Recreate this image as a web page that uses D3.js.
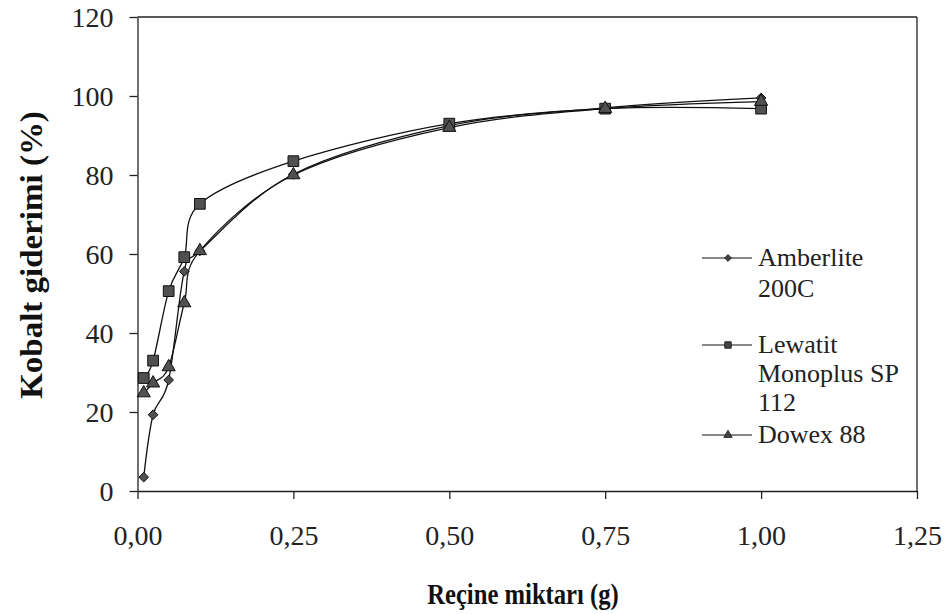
<!DOCTYPE html>
<html><head><meta charset="utf-8">
<script src="https://cdn.jsdelivr.net/npm/d3@7"></script>
<style>body{margin:0;background:#fff}</style>
</head><body><svg id="c" width="944" height="614"></svg>
<script>
const xValues = [0.01, 0.025, 0.05, 0.075, 0.1, 0.25, 0.5, 0.75, 1.0];
const amberlite = [3.5, 19.3, 28.1, 55.6, 60.8, 80.2, 92.5, 97.0, 99.5];
const lewatit   = [28.6, 33.0, 50.6, 59.2, 72.7, 83.5, 93.0, 96.8, 96.8];
const dowex     = [24.8, 27.3, 31.4, 47.6, 60.8, 80.0, 92.0, 96.8, 98.6];
const seriesNames = [["Amberlite", "200C"], ["Lewatit", "Monoplus SP", "112"], ["Dowex 88"]];
const xTicks = [0, 0.25, 0.5, 0.75, 1.0, 1.25];
const yTicks = [0, 20, 40, 60, 80, 100, 120];

const svg = d3.select("#c");
const L = 137.5, R = 917, T = 17, B = 491;
const x = d3.scaleLinear().domain([0, 1.25]).range([L, R]);
const y = d3.scaleLinear().domain([0, 120]).range([B, T]);
const font = "'Liberation Serif', 'Times New Roman', serif";

svg.append("line").attr("x1", L).attr("x2", R).attr("y1", T).attr("y2", T).attr("stroke", "#222").attr("stroke-width", 1.3);
svg.append("line").attr("x1", R).attr("x2", R).attr("y1", T).attr("y2", B).attr("stroke", "#222").attr("stroke-width", 1.3);

const fmt = d => d3.format(".2f")(d).replace(".", ",");
const xAxis = svg.append("g").attr("transform", `translate(0,${B})`)
  .call(d3.axisBottom(x).tickValues(xTicks).tickFormat(fmt).tickSize(8).tickSizeOuter(0));
const yAxis = svg.append("g").attr("transform", `translate(${L},0)`)
  .call(d3.axisLeft(y).tickValues(yTicks).tickFormat(d3.format("d")).tickSize(8).tickSizeOuter(0));
[xAxis, yAxis].forEach(g => {
  g.attr("font-family", null).attr("font-size", null);
  g.selectAll("path,line").attr("stroke", "#222").attr("stroke-width", 1.3);
  g.selectAll("text").style("font-family", font).style("font-size", "28px").attr("fill", "#222");
});
xAxis.selectAll("text").attr("dy", "0").attr("y", 54);
yAxis.selectAll("text").attr("x", -24).attr("dy", "0.33em");

svg.append("text").attr("transform", "translate(523,604) scale(0.85,1)").attr("text-anchor", "middle")
  .style("font-family", font).style("font-weight", "bold").style("font-size", "29px").attr("fill", "#111")
  .text("Reçine miktarı (g)");
svg.append("text").attr("transform", "translate(42,255) scale(0.95,1) rotate(-90)").attr("text-anchor", "middle")
  .style("font-family", font).style("font-weight", "bold").style("font-size", "33px").attr("fill", "#111")
  .text("Kobalt giderimi (%)");

const line = d3.line().x(d => x(d[0])).y(d => y(d[1])).curve(d3.curveCardinal.tension(0));
const sets = [amberlite, lewatit, dowex];
const symbols = [d3.symbolDiamond2, d3.symbolSquare, d3.symbolTriangle];
const sizes = [60, 115, 75];
const legSizes = [30, 42, 30];
const g = svg.append("g");
sets.forEach((vals, i) => {
  const pts = xValues.map((xv, j) => [xv, vals[j]]);
  g.append("path").attr("d", line(pts)).attr("fill", "none").attr("stroke", "#111").attr("stroke-width", 1.3);
});
sets.forEach((vals, i) => {
  xValues.forEach((xv, j) => {
    g.append("path").attr("d", d3.symbol(symbols[i], sizes[i])())
      .attr("transform", `translate(${x(xv)},${y(vals[j])})`)
      .attr("fill", "#505050").attr("stroke", "#111").attr("stroke-width", 1);
  });
});

const legY = [258, 345, 435];
const lineGap = [31, 29, 29];
const lg = svg.append("g");
seriesNames.forEach((names, i) => {
  lg.append("line").attr("x1", 702).attr("x2", 752).attr("y1", legY[i]).attr("y2", legY[i]).attr("stroke", "#111").attr("stroke-width", 1.2);
  lg.append("path").attr("d", d3.symbol(symbols[i], legSizes[i])()).attr("transform", `translate(728,${legY[i]})`)
    .attr("fill", "#444").attr("stroke", "#111").attr("stroke-width", 0.8);
  names.forEach((n, k) => {
    lg.append("text").attr("x", 758).attr("y", legY[i] + 8 + k * lineGap[i])
      .style("font-family", font).style("font-size", "26px").attr("fill", "#222").text(n);
  });
});
</script></body></html>
